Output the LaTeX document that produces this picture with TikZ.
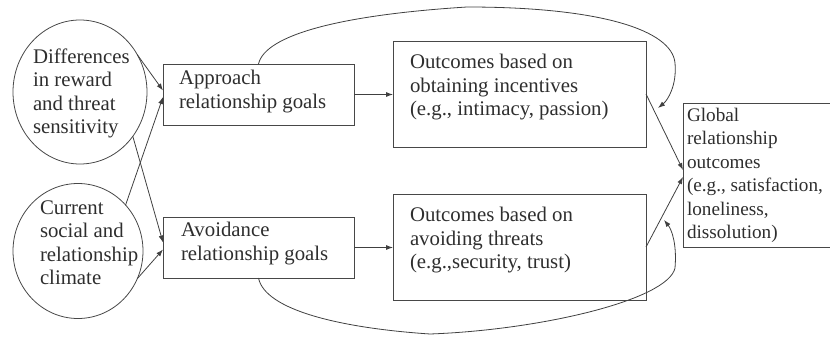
\documentclass[tikz,border=0pt]{standalone}
\usepackage{fontspec}
\setmainfont{Liberation Serif}
\usetikzlibrary{shapes.geometric,arrows.meta}
\begin{document}
\begin{tikzpicture}[x=1pt,y=-1pt,
  every node/.style={inner sep=0pt, outer sep=0pt},
  lbl/.style={anchor=north west, align=left, text=black!82,
    font=\fontsize{20.8}{23.5}\selectfont},
  boxnode/.style={draw=black!72, line width=0.8pt, rectangle, anchor=north west},
  bubble/.style={draw=black!72, line width=0.8pt, ellipse},
  conn/.style={draw=black!75, line width=0.8pt, -{Latex[length=7pt,width=5pt]}}]
\useasboundingbox (0,0) rectangle (830,337);
\clip (0,0) rectangle (830,337);

% sources
\node[bubble, minimum width=134pt, minimum height=144pt] (c1) at (80,92) {};
\node[bubble, minimum width=130pt, minimum height=135pt] (c2) at (78,251) {};
\node[lbl] (c1t) at (33,48.5) {Differences\\in reward\\and threat\\sensitivity};
\node[lbl] (c2t) at (40,200.5) {Current\\social and\\relationship\\climate};

% goals
\node[boxnode, minimum width=191pt, minimum height=61pt] (ap) at (163,64) {};
\node[boxnode, minimum width=191pt, minimum height=61pt] (av) at (163,217) {};
\node[lbl] (apt) at (179,70.5) {Approach\\relationship goals};
\node[lbl] (avt) at (181,222.5) {Avoidance\\relationship goals};

% outcomes
\node[boxnode, minimum width=253pt, minimum height=106pt] (o1) at (393,41) {};
\node[boxnode, minimum width=253pt, minimum height=106pt] (o2) at (393,194) {};
\node[lbl] (o1t) at (410,54.5) {Outcomes based on\\obtaining incentives\\(e.g., intimacy, passion)};
\node[lbl] (o2t) at (410,207.5) {Outcomes based on\\avoiding threats\\(e.g.,security, trust)};

% global
\node[boxnode, minimum width=170pt, minimum height=144pt] (gl) at (683,103) {};
\node[lbl, font=\fontsize{19.2}{23.5}\selectfont] (glt) at (687,108) {Global\\relationship\\outcomes\\(e.g., satisfaction,\\loneliness,\\dissolution)};

% connectors from sources
\draw[conn] (c1.33) -- ([yshift=4pt]ap.west);
\draw[conn] (c2.44) -- ([yshift=-2.5pt]ap.west);
\draw[conn] (c1.-40) -- ([yshift=5pt]av.west);
\draw[conn] (c2.-25) -- ([yshift=-2pt]av.west);

% goals to outcomes
\draw[conn] (ap.east) -- (ap.east -| o1.west);
\draw[conn] (av.east) -- (av.east -| o2.west);

% outcomes to global
\draw[conn] (o1.east) -- ([yshift=5pt]gl.west);
\draw[conn] (o2.east) -- ([yshift=-2pt]gl.west);

% direct curved paths
\coordinate (tend) at (658,108);
\coordinate (bend) at (664,220);
\draw[conn] (ap.north) .. controls (265,35) and (340,15) .. (467,7)
  .. controls (600,7) and (672,30) .. (675,63)
  .. controls (677,85) and (668,100) .. (tend);
\draw[conn] (av.south) .. controls (265,310) and (340,328) .. (430,334)
  .. controls (540,330) and (668,300) .. (675,268)
  .. controls (677,245) and (672,230) .. (bend);
\end{tikzpicture}
\end{document}
